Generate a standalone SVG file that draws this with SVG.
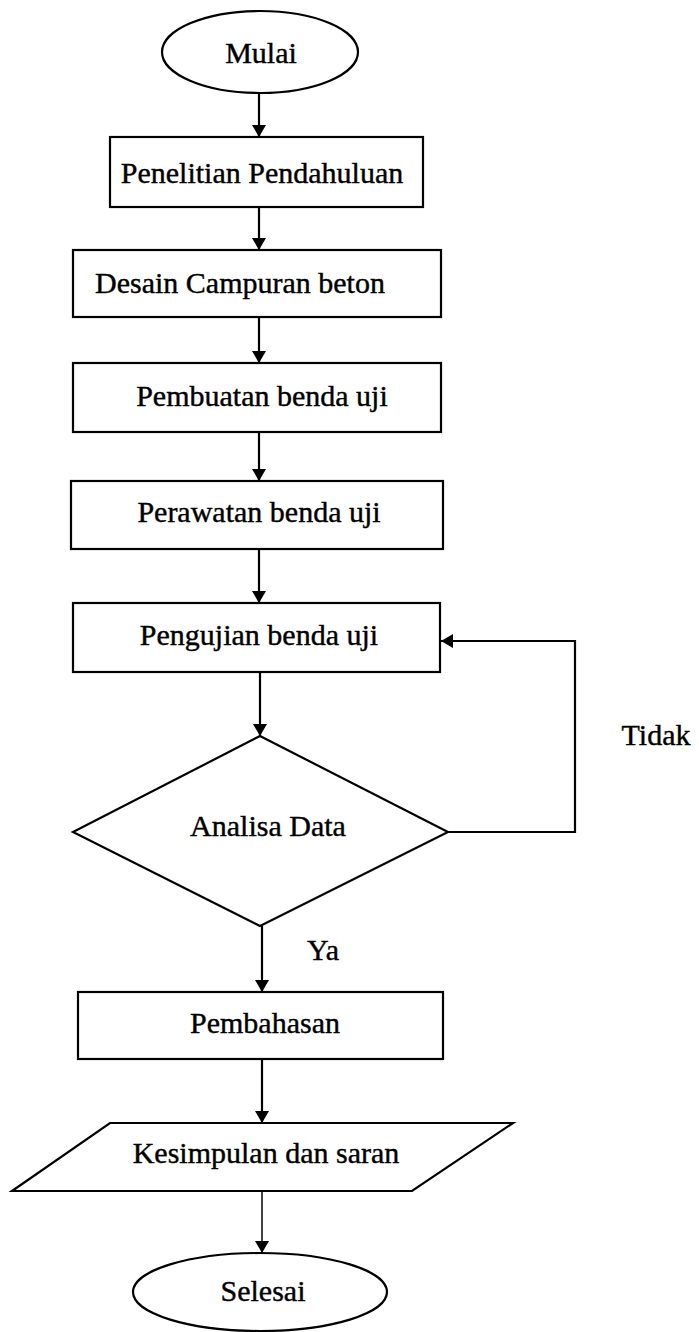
<svg xmlns="http://www.w3.org/2000/svg" width="699" height="1332" viewBox="0 0 699 1332">
<defs>
<marker id="ah" viewBox="0 0 12 14" refX="12" refY="7" markerWidth="12" markerHeight="14" markerUnits="userSpaceOnUse" orient="auto">
<path d="M0,0 L12,7 L0,14 Z" fill="#000"/>
</marker>
<style>
.s{fill:#fff;stroke:#000;stroke-width:2.2}
.t{font-family:"Liberation Serif","Times New Roman",serif;font-size:30px;fill:#000;stroke:#000;stroke-width:0.4;text-anchor:middle}
.c{fill:none;stroke:#000;stroke-width:2.2}
</style>
</defs>
<rect width="699" height="1332" fill="#fff"/>
<g id="connectors">
<line class="c" x1="259" y1="93" x2="259" y2="137" marker-end="url(#ah)"/>
<line class="c" x1="259" y1="207" x2="259" y2="250" marker-end="url(#ah)"/>
<line class="c" x1="259" y1="317" x2="259" y2="363" marker-end="url(#ah)"/>
<line class="c" x1="259" y1="432" x2="259" y2="481" marker-end="url(#ah)"/>
<line class="c" x1="259" y1="549" x2="259" y2="603" marker-end="url(#ah)"/>
<line class="c" x1="260" y1="672" x2="260" y2="736" marker-end="url(#ah)"/>
<line class="c" x1="262" y1="926" x2="262" y2="992" marker-end="url(#ah)"/>
<line class="c" x1="262" y1="1059" x2="262" y2="1123" marker-end="url(#ah)"/>
<line class="c" x1="262" y1="1191" x2="262" y2="1253" marker-end="url(#ah)" style="stroke-width:1.5"/>
<polyline class="c" points="448,832 575,832 575,641 441,641" marker-end="url(#ah)"/>
<text class="t" x="323" y="960">Ya</text>
<text class="t" x="656" y="745">Tidak</text>
</g>
<g id="mulai">
<ellipse class="s" cx="260" cy="52" rx="98" ry="41"/>
<text class="t" x="261" y="63">Mulai</text>
</g>
<g id="penelitian">
<rect class="s" x="110" y="137" width="313" height="70"/>
<text class="t" x="262" y="183">Penelitian Pendahuluan</text>
</g>
<g id="desain">
<rect class="s" x="73" y="250" width="368" height="67"/>
<text class="t" x="240" y="293">Desain Campuran beton</text>
</g>
<g id="pembuatan">
<rect class="s" x="73" y="363" width="368" height="69"/>
<text class="t" x="262" y="406">Pembuatan benda uji</text>
</g>
<g id="perawatan">
<rect class="s" x="71" y="481" width="372" height="68"/>
<text class="t" x="259" y="522">Perawatan benda uji</text>
</g>
<g id="pengujian">
<rect class="s" x="73" y="603" width="367" height="69"/>
<text class="t" x="259" y="645">Pengujian benda uji</text>
</g>
<g id="analisa">
<polygon class="s" points="260,736 448,832 260,926 73,832"/>
<text class="t" x="268" y="836">Analisa Data</text>
</g>
<g id="pembahasan">
<rect class="s" x="78" y="992" width="365" height="67"/>
<text class="t" x="265" y="1033">Pembahasan</text>
</g>
<g id="kesimpulan">
<polygon class="s" points="110,1123 513,1123 412,1191 12,1191"/>
<text class="t" x="266" y="1163">Kesimpulan dan saran</text>
</g>
<g id="selesai">
<ellipse class="s" cx="260" cy="1292" rx="127" ry="39"/>
<text class="t" x="263" y="1301">Selesai</text>
</g>
</svg>
